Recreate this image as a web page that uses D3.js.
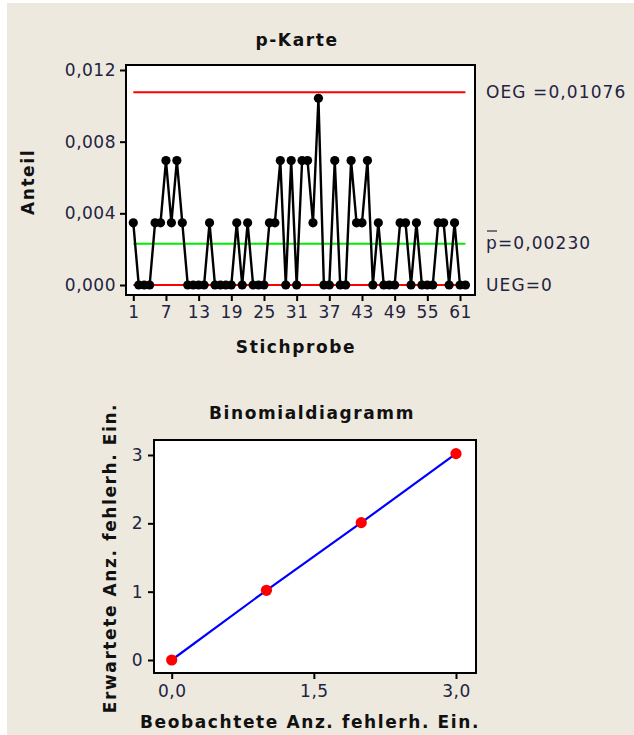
<!DOCTYPE html>
<html lang="de">
<head>
<meta charset="UTF-8">
<title>p-Karte</title>
<script src="https://cdn.jsdelivr.net/npm/d3@7"></script>
<style>
  body { margin: 0; background: #fff; }
  svg text { font-family: "DejaVu Sans", Verdana, sans-serif; }
  .tick text { fill: #23233f; font-size: 17px; letter-spacing: 0.5px; }
  .tick line { stroke: #000; stroke-width: 2; }
  .bold { font-weight: bold; fill: #111; font-size: 17px; letter-spacing: 1.6px; }
  .lbl { fill: #23233f; font-size: 17px; letter-spacing: 1.1px; }
</style>
</head>
<body>
<script>
// anzahl fehlerhafter einheiten je stichprobe (n = 288)
var defects = [1,0,0,0,1,1,2,1,2,1,
               0,0,0,0,1,0,0,0,0,1,
               0,1,0,0,0,1,1,2,0,2,
               0,2,2,1,3,0,0,2,0,0,
               2,1,1,2,0,1,0,0,0,1,
               1,0,1,0,0,0,1,1,0,1,
               0,0];
var sampleSize = 288;
var pBar = 0.00230;
var oeg = 0.01076;
var ueg = 0;
var xTicksTop = [1,7,13,19,25,31,37,43,49,55,61];
var yTicksTop = [0,0.004,0.008,0.012];

// binomialdiagramm
var observed = [0,1,2,3];
var expected = [0,1.02,2.01,3.02];
var xTicksBin = [0,1.5,3];
var yTicksBin = [0,1,2,3];

var W = 634, H = 735;
var komma = function(fmt){ return function(d){ return d3.format(fmt)(d).replace(".", ","); }; };

var svg = d3.select("body").append("svg")
    .attr("width", W).attr("height", H);

svg.append("rect")
    .attr("x", 7).attr("y", 3)
    .attr("width", W - 7).attr("height", H - 3)
    .attr("fill", "#ede9df");

// ---------- p-Karte ----------
var pk = {left: 126, right: 475, top: 65, bottom: 295};
var x = d3.scaleLinear().domain([1, 61]).range([133.3, 460]);
var y = d3.scaleLinear().domain([0, 0.012]).range([285, 70]);

svg.append("rect")
    .attr("x", pk.left).attr("y", pk.top)
    .attr("width", pk.right - pk.left).attr("height", pk.bottom - pk.top)
    .attr("fill", "#fff");

var gy = svg.append("g")
    .attr("transform", "translate(" + pk.left + ",0)")
    .call(d3.axisLeft(y).tickValues(yTicksTop).tickFormat(komma(".3f")).tickSize(6).tickPadding(4));
gy.select(".domain").remove();

var gx = svg.append("g")
    .attr("transform", "translate(0," + pk.bottom + ")")
    .call(d3.axisBottom(x).tickValues(xTicksTop).tickSize(6).tickPadding(5));
gx.select(".domain").remove();

var nSamples = defects.length;
var limits = [
  {v: oeg, c: "#ff0000"},
  {v: pBar, c: "#00ee00"},
  {v: ueg, c: "#ff0000"}
];
svg.selectAll(".limit")
    .data(limits)
    .enter().append("line")
    .attr("class", "limit")
    .attr("x1", x(1)).attr("x2", x(nSamples))
    .attr("y1", function(d){ return y(d.v); })
    .attr("y2", function(d){ return y(d.v); })
    .attr("stroke", function(d){ return d.c; })
    .attr("stroke-width", 2);

var pts = defects.map(function(d, i){ return {k: i + 1, p: d / sampleSize}; });

svg.append("path")
    .datum(pts)
    .attr("fill", "none")
    .attr("stroke", "#000")
    .attr("stroke-width", 2.4)
    .attr("d", d3.line().x(function(d){ return x(d.k); }).y(function(d){ return y(d.p); }));

svg.selectAll(".pt")
    .data(pts)
    .enter().append("circle")
    .attr("class", "pt")
    .attr("cx", function(d){ return x(d.k); })
    .attr("cy", function(d){ return y(d.p); })
    .attr("r", 4.6)
    .attr("fill", "#000");

svg.append("rect")
    .attr("x", pk.left).attr("y", pk.top)
    .attr("width", pk.right - pk.left).attr("height", pk.bottom - pk.top)
    .attr("fill", "none").attr("stroke", "#000").attr("stroke-width", 2);

svg.append("text").attr("class", "bold")
    .attr("x", 297).attr("y", 46).attr("text-anchor", "middle").text("p-Karte");
svg.append("text").attr("class", "bold")
    .attr("x", 296).attr("y", 353).attr("text-anchor", "middle").text("Stichprobe");
svg.append("text").attr("class", "bold")
    .attr("transform", "translate(34,182) rotate(-90)")
    .attr("text-anchor", "middle").text("Anteil");

svg.append("text").attr("class", "lbl")
    .attr("x", 486).attr("y", y(oeg) + 6).text("OEG =" + komma(".5f")(oeg));
svg.append("text").attr("class", "lbl")
    .attr("x", 486).attr("y", 249).text("p=" + komma(".5f")(pBar));
svg.append("line")
    .attr("x1", 487).attr("x2", 497).attr("y1", 231).attr("y2", 231)
    .attr("stroke", "#23233f").attr("stroke-width", 1.2);
svg.append("text").attr("class", "lbl")
    .attr("x", 486).attr("y", y(ueg) + 6).text("UEG=" + ueg);

// ---------- Binomialdiagramm ----------
var bin = {left: 154, right: 476, top: 440, bottom: 673};
var bx = d3.scaleLinear().domain([0, 3]).range([171.7, 456]);
var by = d3.scaleLinear().domain([0, 3]).range([660, 455]);

svg.append("rect")
    .attr("x", bin.left).attr("y", bin.top)
    .attr("width", bin.right - bin.left).attr("height", bin.bottom - bin.top)
    .attr("fill", "#fff");

var bgy = svg.append("g")
    .attr("transform", "translate(" + bin.left + ",0)")
    .call(d3.axisLeft(by).tickValues(yTicksBin).tickFormat(d3.format("d")).tickSize(6).tickPadding(5));
bgy.select(".domain").remove();

var bgx = svg.append("g")
    .attr("transform", "translate(0," + bin.bottom + ")")
    .call(d3.axisBottom(bx).tickValues(xTicksBin).tickFormat(komma(".1f")).tickSize(6).tickPadding(6));
bgx.select(".domain").remove();

var binPts = observed.map(function(o, i){ return {o: o, e: expected[i]}; });

svg.append("path")
    .datum(binPts)
    .attr("fill", "none")
    .attr("stroke", "#0000ff")
    .attr("stroke-width", 2.2)
    .attr("d", d3.line().x(function(d){ return bx(d.o); }).y(function(d){ return by(d.e); }));

svg.selectAll(".bpt")
    .data(binPts)
    .enter().append("circle")
    .attr("class", "bpt")
    .attr("cx", function(d){ return bx(d.o); })
    .attr("cy", function(d){ return by(d.e); })
    .attr("r", 5.6)
    .attr("fill", "#ff0000");

svg.append("rect")
    .attr("x", bin.left).attr("y", bin.top)
    .attr("width", bin.right - bin.left).attr("height", bin.bottom - bin.top)
    .attr("fill", "none").attr("stroke", "#000").attr("stroke-width", 2);

svg.append("text").attr("class", "bold")
    .attr("x", 312).attr("y", 419).attr("text-anchor", "middle").text("Binomialdiagramm");
svg.append("text").attr("class", "bold")
    .attr("x", 310).attr("y", 728).attr("text-anchor", "middle").text("Beobachtete Anz. fehlerh. Ein.");
svg.append("text").attr("class", "bold")
    .attr("transform", "translate(116,558) rotate(-90)")
    .attr("text-anchor", "middle").text("Erwartete Anz. fehlerh. Ein.");
</script>
</body>
</html>
